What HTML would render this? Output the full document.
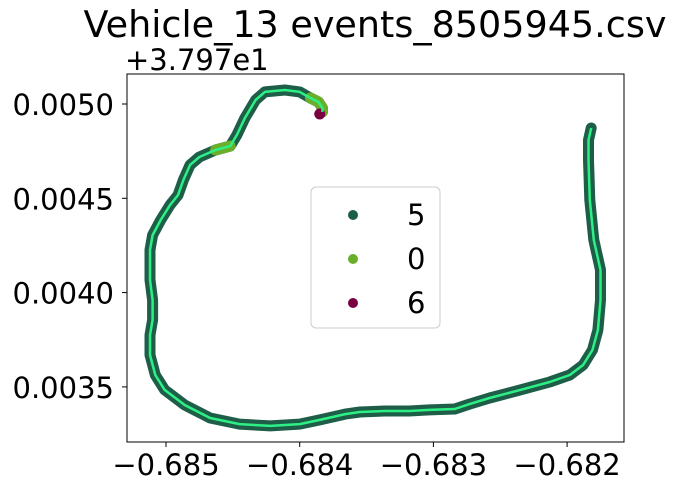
<!DOCTYPE html>
<html><head><meta charset="utf-8"><style>
body{margin:0;background:#fff}
svg{font-family:"DejaVu Sans","Liberation Sans",sans-serif}
</style></head><body>
<svg id="c" width="677" height="492" xmlns="http://www.w3.org/2000/svg">
<text x="375" y="37" font-size="36.5" text-anchor="middle">Vehicle_13 events_8505945.csv</text>
<text x="125" y="70" font-size="29">+3.797e1</text>
<rect x="127" y="74" width="497" height="368" fill="none" stroke="#000" stroke-width="1"/>
<g id="ticks"></g>
<g id="marks"></g>
<g>
<rect x="311" y="187" width="129" height="141" rx="5" fill="#fff" fill-opacity="0.8" stroke="#ccc"/>
<circle cx="353" cy="215" r="5" fill="#1e5e48"/>
<text x="407" y="225" font-size="29">5</text>
<circle cx="353" cy="259" r="5" fill="#6aae2a"/>
<text x="407" y="269" font-size="29">0</text>
<circle cx="353" cy="303" r="5" fill="#780040"/>
<text x="407" y="313" font-size="29">6</text>
</g>
</svg>
<script>
const xTicks=[-0.685,-0.684,-0.683,-0.682];
const xTickLabels=["\u22120.685","\u22120.684","\u22120.683","\u22120.682"];
const yTicks=[0.0035,0.0040,0.0045,0.0050];
const yTickLabels=["0.0035","0.0040","0.0045","0.0050"];
const lonVals=[-0.68182,-0.68184,-0.68184,-0.68183,-0.68180,-0.68175,-0.68175,-0.68177,-0.68181,-0.68188,-0.68198,-0.68213,-0.68235,-0.68258,-0.68273,-0.68284,-0.68303,-0.68318,-0.68336,-0.68355,-0.68366,-0.68385,-0.68400,-0.68422,-0.68445,-0.68467,-0.68486,-0.68501,-0.68508,-0.68512,-0.68512,-0.68510,-0.68510,-0.68512,-0.68512,-0.68510,-0.68504,-0.68497,-0.68491,-0.68487,-0.68482,-0.68475,-0.68463,-0.68452,-0.68447,-0.68441,-0.68433,-0.68426,-0.68411,-0.68400,-0.68392,-0.68386,-0.68383,-0.68383];
const latVals=[0.004873,0.004809,0.004703,0.004491,0.004279,0.004120,0.003961,0.003802,0.003696,0.003616,0.003563,0.003526,0.003484,0.003441,0.003409,0.003383,0.003378,0.003372,0.003372,0.003367,0.003356,0.003325,0.003303,0.003293,0.003303,0.003335,0.003404,0.003484,0.003563,0.003669,0.003775,0.003855,0.003961,0.004067,0.004226,0.004305,0.004385,0.004464,0.004517,0.004597,0.004677,0.004719,0.004756,0.004777,0.004836,0.004926,0.005021,0.005064,0.005074,0.005064,0.005032,0.005011,0.004979,0.004958];
const classVals=[5,5,5,5,5,5,5,5,5,5,5,5,5,5,5,5,5,5,5,5,5,5,5,5,5,5,5,5,5,5,5,5,5,5,5,5,5,5,5,5,5,5,0,0,5,5,5,5,5,5,0,0,0,0];
const class6Lon=[-0.68385];
const class6Lat=[0.004947];
const NS="http://www.w3.org/2000/svg";
function sx(v){return 166+(v+0.685)*133700;}
function sy(v){return 104-(v-0.0050)*188600;}
const ticks=document.getElementById('ticks'),marks=document.getElementById('marks');
function mk(tag,attrs,parent){const e=document.createElementNS(NS,tag);for(const k in attrs)e.setAttribute(k,attrs[k]);parent.appendChild(e);return e;}
xTicks.forEach((t,i)=>{const x=sx(t);
const l=mk('line',{x1:x,x2:x,y1:442,y2:447,stroke:'#000'},ticks);


const tx=mk('text',{x:x,y:475,'font-size':29,'text-anchor':'middle'},ticks);tx.textContent=xTickLabels[i];

});
yTicks.forEach((t,i)=>{const y=sy(t);
const l=mk('line',{x1:122,x2:127,y1:y,y2:y,stroke:'#000'},ticks);


const tx=mk('text',{x:114,y:y+11,'font-size':29,'text-anchor':'end'},ticks);tx.textContent=yTickLabels[i];

});
const pts=lonVals.map((v,i)=>[sx(v),sy(latVals[i])]);
const d=pts.map((p,i)=>(i?'L':'M')+p[0].toFixed(1)+' '+p[1].toFixed(1)).join(' ');
const track=mk('path',{d:d,fill:'none',stroke:'#1e5e48','stroke-width':11,'stroke-linejoin':'round','stroke-linecap':'round'},marks);


for(let i=0;i<pts.length;i++){if(classVals[i]!==0)continue;
let j=i;while(j+1<pts.length&&classVals[j+1]===0)j++;
let seg='M'+pts[i][0]+' '+pts[i][1];for(let k=i+1;k<=j;k++)seg+=' L'+pts[k][0]+' '+pts[k][1];
const s=mk('path',{d:seg,fill:'none',stroke:'#6aae2a','stroke-width':11,'stroke-linejoin':'round','stroke-linecap':'round'},marks);


i=j;}
class6Lon.forEach((v,i)=>{const c=mk('circle',{cx:sx(v),cy:sy(class6Lat[i]),r:5.5,fill:'#780040'},marks);

});
const line=mk('path',{d:d,fill:'none',stroke:'#2df085','stroke-width':2.5,'stroke-linejoin':'round'},marks);


</script>
</body></html>
